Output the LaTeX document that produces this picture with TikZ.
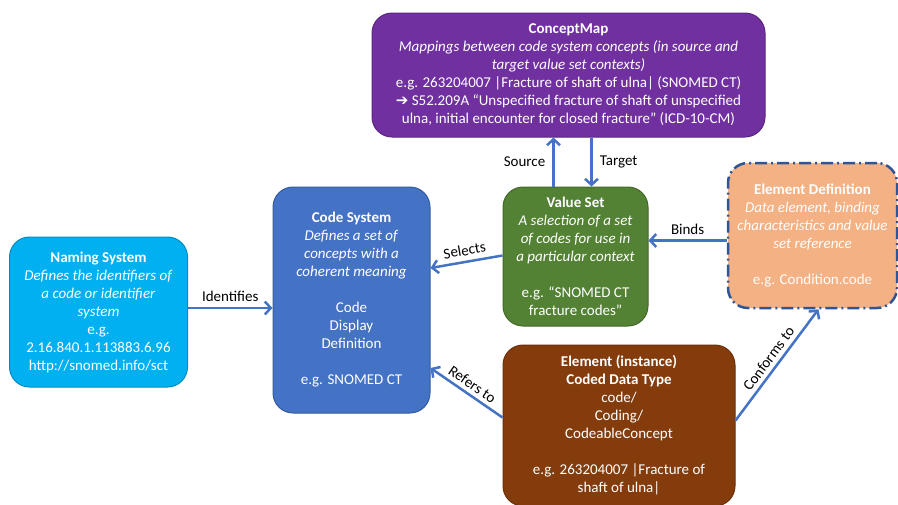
\documentclass[tikz,border=0pt]{standalone}
\usepackage{fontspec}
\setmainfont{Carlito}
\newfontfamily\symfont{DejaVu Sans}
\usetikzlibrary{arrows.meta}
\definecolor{cmpurple}{HTML}{7030A0}
\definecolor{vsgreen}{HTML}{548235}
\definecolor{edorange}{HTML}{F4B183}
\definecolor{eddash}{HTML}{2F5597}
\definecolor{csblue}{HTML}{4472C4}
\definecolor{nscyan}{HTML}{00B0F0}
\definecolor{elbrown}{HTML}{843C0C}
\definecolor{linkblue}{HTML}{4472C4}

\begin{document}
\begin{tikzpicture}
[every node/.style={inner sep=0pt, font=\fontsize{15}{18}\selectfont},
 box/.style={rectangle, rounded corners=20pt, align=center, text=white, line width=1pt},
 link/.style={line width=2.5pt, color=linkblue, -{Straight Barb[length=6pt,width=13pt]}},
 linklabel/.style={text=black}]
\clip (0pt,0pt) rectangle (898pt,-504pt);
\node (conceptmap) [box, minimum width=393pt, minimum height=124pt, fill=cmpurple, draw=cmpurple!80!black] at (568.5pt, -75pt) {\textbf{ConceptMap}\\ \textit{Mappings between code system concepts (in source and}\\ \textit{target value set contexts)}\\ e.g. 263204007 |Fracture of shaft of ulna| (SNOMED CT)\\ {\symfont\fontsize{15}{18}\selectfont ➔} S52.209A “Unspecified fracture of shaft of unspecified\\ ulna, initial encounter for closed fracture” (ICD-10-CM)};
\node (valueset) [box, minimum width=145pt, minimum height=139pt, fill=vsgreen, draw=vsgreen!80!black] at (575.5pt, -256.5pt) {\textbf{Value Set}\\ \textit{A selection of a set}\\ \textit{of codes for use in}\\ \textit{a particular context}\\[18pt] e.g. “SNOMED CT\\ fracture codes”};
\node (elemdef) [box, minimum width=169pt, minimum height=145pt, fill=edorange, draw=eddash, line width=2.5pt, dash pattern=on 12pt off 4pt on 2pt off 4pt] at (812.5pt, -235.5pt) {\textbf{Element Definition}\\ \textit{Data element, binding}\\ \textit{characteristics and value}\\ \textit{set reference}\\[18pt] e.g. Condition.code};
\node (codesys) [box, minimum width=157pt, minimum height=226pt, fill=csblue, draw=csblue!80!black] at (351.5pt, -300pt) {\textbf{Code System}\\ \textit{Defines a set of}\\ \textit{concepts with a}\\ \textit{coherent meaning}\\[18pt] Code\\ Display\\ Definition\\[18pt] e.g. SNOMED CT};
\node (namingsys) [box, minimum width=178pt, minimum height=150pt, fill=nscyan, draw=nscyan!80!black] at (98.5pt, -312pt) {\textbf{Naming System}\\ \textit{Defines the identifiers of}\\ \textit{a code or identifier}\\ \textit{system}\\ e.g.\\ 2.16.840.1.113883.6.96\\ http://snomed.info/sct};
\node (element) [box, minimum width=232pt, minimum height=161pt, fill=elbrown, draw=elbrown!80!black] at (619pt, -425.5pt) {\textbf{Element (instance)}\\ \textbf{Coded Data Type}\\ code/\\ Coding/\\ CodeableConcept\\[18pt] e.g. 263204007 |Fracture of\\ shaft of ulna|};
\draw [link] ([yshift=4pt]namingsys.east) -- ([yshift=4pt]namingsys.east -| codesys.west) node [linklabel, midway, above=5pt] {Identifies};
\draw [link] ([yshift=1pt]valueset.west) -- ([yshift=32pt]codesys.east) node [linklabel, midway, sloped, above=5pt] {Selects};
\draw [link] ([xshift=-22pt]valueset.north) -- ([xshift=-22pt]valueset.north |- conceptmap.south) node [linklabel, midway, left=7pt] {Source};
\draw [link] ([xshift=16pt]valueset.north |- conceptmap.south) -- ([xshift=16pt]valueset.north) node [linklabel, midway, right=7pt] {Target};
\draw [link] ([yshift=-5pt]elemdef.west) -- ([yshift=-5pt]elemdef.west -| valueset.east) node [linklabel, midway, above=5pt] {Binds};
\draw [link] ([yshift=8pt]element.west) -- ([yshift=-68pt]codesys.east) node [linklabel, midway, sloped, above=4pt] {Refers to};
\draw [link] ([yshift=5pt]element.east) -- ([xshift=6pt]elemdef.south) node [linklabel, midway, sloped, above=4pt] {Conforms to};
\end{tikzpicture}
\end{document}
